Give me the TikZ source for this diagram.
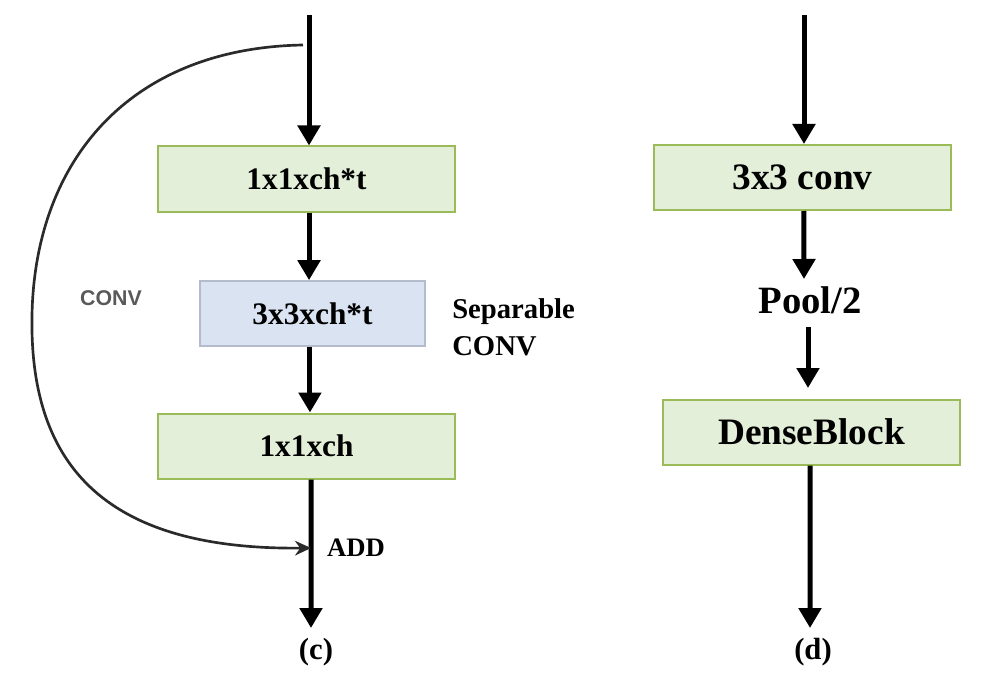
\documentclass[tikz,border=0pt]{standalone}
\usepackage{fontspec}
\setmainfont{Liberation Serif}
\newfontfamily\convfont{Liberation Sans}
\usetikzlibrary{arrows.meta}
\definecolor{gfill}{HTML}{E3EFD9}
\definecolor{gline}{HTML}{9BBB59}
\definecolor{bfill}{HTML}{DAE3F1}
\definecolor{bline}{HTML}{B4BCCB}
\definecolor{curvec}{HTML}{2A2A2A}
\begin{document}
\begin{tikzpicture}[x=0.75pt,y=-0.75pt,
  gbox/.style={draw=gline,fill=gfill,line width=1.5pt,minimum width=222.75pt,minimum height=48.75pt,inner sep=0pt,font=\fontsize{23.5}{26}\selectfont\bfseries},
  gboxr/.style={gbox,font=\fontsize{28}{30}\selectfont\bfseries},
  bbox/.style={draw=bline,fill=bfill,line width=1.2pt,minimum width=168.75pt,minimum height=48.75pt,inner sep=0pt,font=\fontsize{23.5}{26}\selectfont\bfseries},
  flow/.style={line width=3.75pt,-{Triangle[length=15pt,width=16.5pt]}},
  lbl/.style={inner sep=0pt,font=\fontsize{20}{24}\selectfont\bfseries},
  captxt/.style={inner sep=0pt,font=\fontsize{23}{26}\selectfont\bfseries}]
\useasboundingbox (0,0) rectangle (1001,685);
% left column
\coordinate (ltop) at (309,15);
\node[gbox] (a1) at (306.5,179) {1x1xch*t};
\node[bbox] (a2) at (312.5,313.5) {3x3xch*t};
\node[gbox] (a3) at (306.5,446) {1x1xch};
\coordinate (lend) at (311,628);
\coordinate (cstart) at (303,45);
\coordinate (cend) at (311,548);
\draw[flow] (ltop) -- (ltop |- a1.north);
\draw[flow] ([xshift=1.9pt]a1.south) -- ([xshift=-2.6pt]a2.north);
\draw[flow] ([xshift=-1.9pt]a2.south) -- ([xshift=2.6pt]a3.north);
\draw[flow] ([xshift=3.4pt]a3.south) -- (lend);
\draw[curvec,line width=2pt,-{Stealth[length=12pt,width=11pt]}] (cstart) .. controls (130,48) and (35,160) .. (32,315) .. controls (29,470) and (110,550) .. (cend);
\node[font=\convfont\fontsize{16}{18}\selectfont\bfseries,text=black!65,inner sep=0pt] (conv) at (111,298) {CONV};
\node[align=left,anchor=west,inner sep=0pt,font=\fontsize{21.5}{28}\selectfont\bfseries] (sep) at (452,327) {Separable\\CONV};
\node[lbl] (add) at (356,548) {ADD};
\node[captxt] (c) at (316,652) {(c)};
% right column
\coordinate (rtop) at (804,15);
\node[gboxr] (b1) at (802.5,177.5) {3x3 conv};
\node[inner sep=0pt,font=\fontsize{29}{32}\selectfont\bfseries] (pool) at (810,300) {Pool/2};
\node[gboxr] (b2) at (811.5,432) {DenseBlock};
\coordinate (rend) at (810,628);
\coordinate (p1) at (804,279);
\coordinate (p2) at (808,327);
\coordinate (p3) at (808,388);
\draw[flow] (rtop) -- (rtop |- b1.north);
\draw[flow] ([xshift=1.1pt]b1.south) -- (p1);
\draw[flow] (p2) -- (p3);
\draw[flow] ([xshift=-1.1pt]b2.south) -- (rend);
\node[captxt] (d) at (813,652) {(d)};
\end{tikzpicture}
\end{document}
